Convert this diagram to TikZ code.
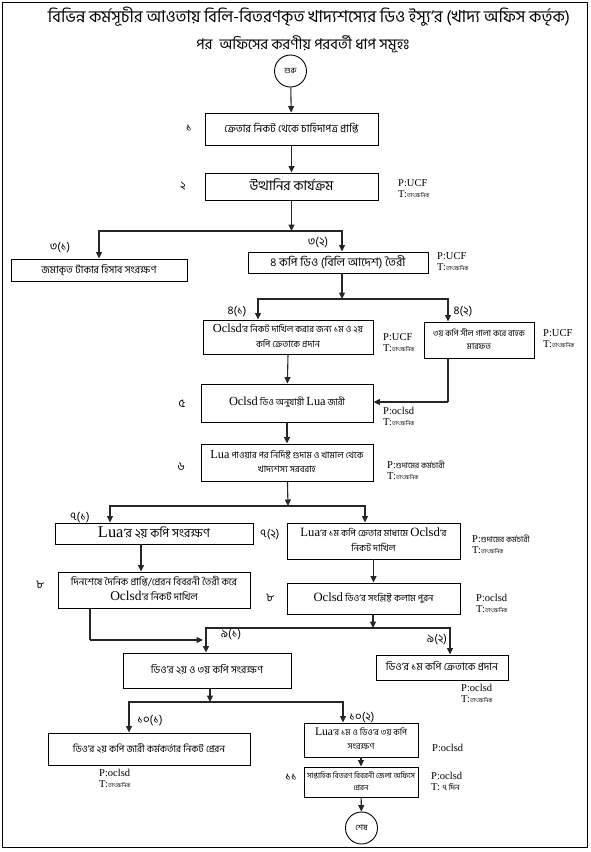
\documentclass[tikz,border=0pt]{standalone}
\usepackage{fontspec}
\usepackage{graphicx}
\setmainfont{Liberation Serif}
\newfontfamily\bn[Script=Bengali]{Hind Siliguri}
\newfontfamily\lt{Liberation Serif}
\usetikzlibrary{arrows.meta}
\tikzset{
  box/.style={draw=black, line width=0.9pt, rectangle, align=center, inner sep=1pt,
    font=\bn\fontsize{7}{11}\selectfont},
  term/.style={draw=black, line width=0.9pt, circle, inner sep=0pt, minimum size=32,
    font=\bn\fontsize{8}{9}\selectfont},
  conn/.style={line width=1.1pt, draw=black!85},
  arr/.style={conn, -{Triangle[length=6.5pt,width=6pt]}},
  steplbl/.style={font=\bn\fontsize{11.5}{12}\selectfont, inner sep=0pt},
  info/.style={font=\lt\fontsize{10.5}{11}\selectfont, align=left, anchor=west, inner sep=0pt},
}
\newcommand\W[2]{\resizebox{#1pt}{!}{\begin{tabular}{@{}c@{}}#2\end{tabular}}}
\newcommand\La[1]{{\lt\fontsize{9.5}{9}\selectfont #1}}
\newcommand\tk{{\bn\fontsize{5.5}{6}\selectfont তাৎক্ষনিক}}
\begin{document}
\begin{tikzpicture}[x=1pt,y=-1pt]
\useasboundingbox (0,0) rectangle (591,852);
\draw[line width=1pt] (2,2) rectangle (587,847);
% title
\node[font=\bn\fontsize{12}{14}\selectfont, inner sep=0pt] (t1) at (309,18) {\W{522}{বিভিন্ন কর্মসূচীর আওতায় বিলি-বিতরণকৃত খাদ্যশস্যের ডিও ইস্যু’র (খাদ্য অফিস কর্তৃক)}};
\node[font=\bn\fontsize{12}{14}\selectfont, inner sep=0pt] (t2) at (303,45) {\W{213}{পর~~অফিসের করণীয় পরবর্তী ধাপ সমূহঃ}};
% start
\node[term] (st) at (290.5,71) {শুরু};
% boxes
\node[box, minimum width=173, minimum height=32] (b1) at (291.5,129) {\W{134}{ক্রেতার নিকট থেকে চাহিদাপত্র প্রাপ্তি}};
\node[box, minimum width=173, minimum height=27] (b2) at (291.5,186.5) {\W{84}{উত্থানির কার্যক্রম}};
\node[box, minimum width=176, minimum height=22] (b3a) at (99,270) {\W{115}{জমাকৃত টাকার হিসাব সংরক্ষণ}};
\node[box, minimum width=180, minimum height=21] (b3b) at (338,262.5) {\W{135}{৪ কপি ডিও (বিলি আদেশ) তৈরী}};
\node[box, minimum width=170, minimum height=34] (b4a) at (288,337) {\W{150}{\La{Oclsd}’র নিকট দাখিল করার জন্য ১ম ও ২য়\\কপি ক্রেতাকে প্রদান}};
\node[box, minimum width=110, minimum height=36] (b4b) at (479,340) {\W{92}{৩য় কপি সীল গালা করে বাহক\\মারফত}};
\node[box, minimum width=172, minimum height=38] (b5) at (287,403) {\W{116}{\La{Oclsd} ডিও অনুযায়ী \La{Lua} জারী}};
\node[box, minimum width=172, minimum height=37] (b6) at (287,462.5) {\W{153}{\La{Lua} পাওয়ার পর নির্দিষ্ট গুদাম ও খামাল থেকে\\খাদ্যশস্য সরবরাহ}};
\node[box, minimum width=198, minimum height=21] (b7a) at (154,533.5) {\W{112}{\La{Lua}’র ২য় কপি সংরক্ষণ}};
\node[box, minimum width=173, minimum height=36] (b7b) at (373.5,541) {\W{146}{\La{Lua}’র ১ম কপি ক্রেতার মাধ্যমে \La{Oclsd}’র\\নিকট দাখিল}};
\node[box, minimum width=192, minimum height=36] (b8a) at (154,590) {\W{166}{দিনশেষে দৈনিক প্রাপ্তি/প্রেরন বিবরনী তৈরী করে\\\La{Oclsd}’র নিকট দাখিল}};
\node[box, minimum width=173, minimum height=31] (b8b) at (373.5,598.5) {\W{120}{\La{Oclsd} ডিও’র সংশ্লিষ্ট কলাম পুরন}};
\node[box, minimum width=168, minimum height=35] (b9a) at (207,670.5) {\W{112}{ডিও’র ২য় ও ৩য় কপি সংরক্ষণ}};
\node[box, minimum width=132, minimum height=25] (b9b) at (442,667.5) {\W{112}{ডিও’র ১ম কপি ক্রেতাকে প্রদান}};
\node[box, minimum width=202, minimum height=32] (b10a) at (149,749) {\W{152}{ডিও’র ২য় কপি জারী কর্মকর্তার নিকট প্রেরন}};
\node[box, minimum width=114, minimum height=34] (b10b) at (361,740) {\W{92}{\La{Lua}’র ১ম ও ডিও’র ৩য় কপি\\সংরক্ষণ}};
\node[box, minimum width=114, minimum height=30] (b11) at (361,782) {\W{108}{সাপ্তাহিক বিতরণ বিবরনী জেলা অফিসে\\প্রেরন}};
\node[term] (en) at (361.5,828) {শেষ};
% step labels
\node[steplbl] (s1) at (189,128) {১};
\node[steplbl] (s2) at (183,186) {২};
\node[steplbl] (s31) at (60,248) {৩(১)};
\node[steplbl] (s32) at (318,243) {৩(২)};
\node[steplbl] (s41) at (237,312) {৪(১)};
\node[steplbl] (s42) at (463,312) {৪(২)};
\node[steplbl] (s5) at (182,404) {৫};
\node[steplbl] (s6) at (181,467) {৬};
\node[steplbl] (s71) at (80,518) {৭(১)};
\node[steplbl] (s72) at (270,535) {৭(২)};
\node[steplbl] (s8a) at (40,585) {৮};
\node[steplbl] (s8b) at (270,598) {৮};
\node[steplbl] (s91) at (231,635) {৯(১)};
\node[steplbl] (s92) at (437,640) {৯(২)};
\node[steplbl] (s101) at (150,721) {১০(১)};
\node[steplbl] (s102) at (362,718) {১০(২)};
\node[steplbl] (s11) at (291,777) {১১};
% info labels
\node[info] (i2) at (398,189) {P:UCF\\T:\tk};
\node[info] (i3) at (437,262) {P:UCF\\T:\tk};
\node[info] (i4a) at (383,343) {P:UCF\\T:\tk};
\node[info] (i4b) at (543,339) {P:UCF\\T:\tk};
\node[info] (i5) at (383,416) {P:oclsd\\T:\tk};
\node[info] (i6) at (387,470) {P:{\bn\fontsize{8}{8}\selectfont গুদামের কর্মচারী}\\T:\tk};
\node[info] (i7) at (472,544) {P:{\bn\fontsize{8}{8}\selectfont গুদামের কর্মচারী}\\T:\tk};
\node[info] (i8) at (476,603) {P:oclsd\\T:\tk};
\node[info] (i9) at (461,693) {P:oclsd\\T:\tk};
\node[info] (i10a) at (99,778) {P:oclsd\\T:\tk};
\node[info] (i10b) at (432,748) {P:oclsd};
\node[info] (i11) at (431,781) {P:oclsd\\T: {\bn\fontsize{8}{8}\selectfont ৭ দিন}};
% connectors
\draw[arr] (st) -- (b1);
\draw[arr] (b1) -- (b2);
\coordinate (j2) at (291.5,231);
\draw[arr] (b2) -- (j2);
\draw[arr] (j2) -| (b3a);
\draw[arr] (j2) -| (b3b.north -| 342,0);
\coordinate (j3) at (342,299);
\draw[arr] (b3b.south -| j3) -- (j3);
\draw[arr] (j3) -| (b4a.north -| 258,0);
\draw[arr] (j3) -| (b4b.north -| 448,0);
\draw[arr] (b4a.south -| 288,0) -- (b5);
\coordinate (j45) at (448,402);
\draw[conn] (b4b.south -| j45) -- (j45);
\draw[arr] (j45) -- (b5.east |- j45);
\draw[arr] (b5) -- (b6);
\coordinate (j6) at (288,506);
\draw[arr] (b6) -- (j6);
\draw[arr] (j6) -| (b7a.north -| 110,0);
\draw[arr] (j6) -| (b7b.north -| 365,0);
\draw[arr] (b7a.south -| 141,0) -- (b8a.north -| 141,0);
\draw[arr] (b7b) -- (b8b);
\coordinate (j8a) at (90,640);
\coordinate (j9) at (373,628);
\draw[conn] (b8a.south -| j8a) -- (j8a);
\draw[arr] (j8a) -- (203,640);
\draw[arr] (b8b.south -| j9) -- (j9);
\draw[arr] (j9) -| (b9a.north -| 206,0);
\draw[arr] (j9) -| (b9b.north -| 450,0);
\coordinate (j10) at (210,702);
\draw[arr] (b9a.south -| j10) -- (j10);
\draw[arr] (j10) -| (b10a.north -| 129,0);
\draw[arr] (j10) -| (b10b.north -| 343,0);
\draw[arr] (b10b) -- (b11);
\draw[arr] (b11) -- (en);
\end{tikzpicture}
\end{document}
